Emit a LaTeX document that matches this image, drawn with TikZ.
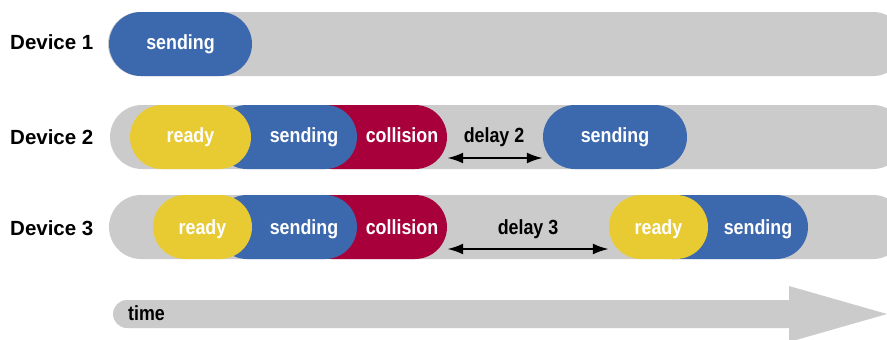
\documentclass[tikz,border=0pt]{standalone}
\usepackage{fontspec}
\setmainfont{Liberation Sans}
\newfontfamily\pillfont[FakeStretch=0.87]{Liberation Sans}
\usetikzlibrary{shapes.misc,arrows.meta}
\definecolor{bargray}{HTML}{CBCBCB}
\definecolor{pblue}{HTML}{3C68AD}
\definecolor{pyellow}{HTML}{E8CB33}
\definecolor{pred}{HTML}{A8003A}
\begin{document}
\begin{tikzpicture}[x=1pt,y=-1pt,
  pill/.style={rounded rectangle, minimum height=64pt, inner sep=0pt, draw=none},
  bar/.style={pill, fill=bargray},
  sendpill/.style={pill, fill=pblue},
  readypill/.style={pill, fill=pyellow},
  collpill/.style={pill, fill=pred},
  pilltext/.style={text=white, anchor=base, inner sep=0pt, font=\pillfont\bfseries\fontsize{20.5}{24}\selectfont},
  blacktext/.style={text=black, anchor=base, inner sep=0pt, font=\pillfont\bfseries\fontsize{20.5}{24}\selectfont},
  devlabel/.style={text=black, anchor=base west, inner sep=0pt, font=\bfseries\fontsize{20.5}{24}\selectfont},
  delayarrow/.style={draw=black, line width=2.3pt, {Latex[length=16pt,width=11pt]}-{Latex[length=16pt,width=11pt]}}
]
\useasboundingbox (0,0) rectangle (887,340);

% device labels
\node[devlabel] (d1) at (10,49.5) {Device 1};
\node[devlabel] (d2) at (10,144) {Device 2};
\node[devlabel] (d3) at (10,235) {Device 3};

% background bars
\node[bar, minimum width=797pt] (g1) at (506.5,44) {};
\node[bar, minimum width=795pt] (g2) at (507.5,137) {};
\node[bar, minimum width=796pt] (g3) at (507,227) {};

% row 1
\node[sendpill, minimum width=143pt] (s1) at (180.5,44) {};
\node[pilltext] (ts1) at (180.5,49.5) {sending};

% row 2
\node[collpill, minimum width=147pt] (c2) at (373.5,137) {};
\node[sendpill, minimum width=142pt] (s2) at (286,137) {};
\node[readypill, minimum width=121pt] (r2) at (190.5,137) {};
\node[sendpill, minimum width=144pt] (s22) at (615,137) {};
\node[pilltext] (tr2) at (190.5,142.7) {ready};
\node[pilltext] (ts2) at (304,142.7) {sending};
\node[pilltext] (tc2) at (402,142.7) {collision};
\node[pilltext] (ts22) at (615,142.7) {sending};
\node[blacktext] (dl2) at (494,142) {delay 2};
\draw[delayarrow] ([yshift=-21pt]c2.east) -- ([yshift=-21pt]s22.west);

% row 3
\node[collpill, minimum width=147pt] (c3) at (373.5,227) {};
\node[sendpill, minimum width=142pt] (s3) at (286,227) {};
\node[readypill, minimum width=99pt] (r3) at (202.5,227) {};
\node[sendpill, minimum width=168pt] (s32) at (724,227) {};
\node[readypill, minimum width=99pt] (r32) at (658.5,227) {};
\node[pilltext] (tr3) at (202.5,234) {ready};
\node[pilltext] (ts3) at (304,234) {sending};
\node[pilltext] (tc3) at (402,234) {collision};
\node[pilltext] (tr32) at (658.5,234) {ready};
\node[pilltext] (ts32) at (758,234) {sending};
\node[blacktext] (dl3) at (528,234) {delay 3};
\draw[delayarrow] ([yshift=-22pt]c3.east) -- ([yshift=-22pt]r32.west);

% time arrow
\node[rounded rectangle, fill=bargray, minimum height=28pt, minimum width=707pt, inner sep=0pt] (taxis) at (466.5,314) {};
\fill[bargray] (789,286) -- (887,314) -- (789,342) -- cycle;
\node[blacktext, anchor=base west] (tlabel) at (128,320.7) {time};
\end{tikzpicture}
\end{document}
